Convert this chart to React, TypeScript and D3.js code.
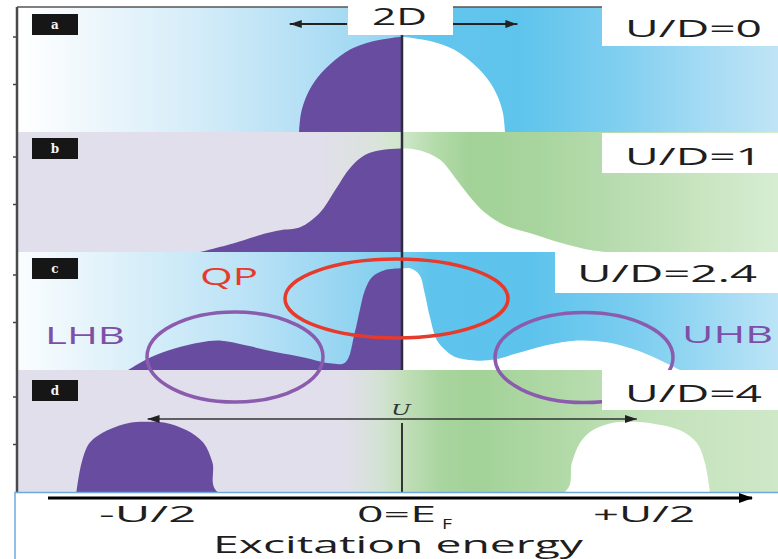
import React from "react";
import * as d3 from "d3";

const W = 778;
const H = 559;

// ---- data (energy in units of D, E_F = 0; DOS normalised to U/D=0 peak) ----
const panelLetters = ["a", "b", "c", "d"];
const ratioLabels = ["U/D=0", "U/D=1", "U/D=2.4", "U/D=4"];

const energyA = [-1, -0.98, -0.93, -0.85, -0.7, -0.5, -0.3, -0.1, 0, 0.1, 0.3, 0.5, 0.7, 0.85, 0.93, 0.98, 1.0];
const dosA = [0, 0.2, 0.37, 0.53, 0.71, 0.87, 0.95, 0.99, 1.0, 0.99, 0.95, 0.87, 0.71, 0.53, 0.37, 0.2, 0];

const energyB = [-1.96, -1.64, -1.31, -1.18, -0.99, -0.8, -0.65, -0.5, -0.36, -0.21, 0, 0.17, 0.37, 0.51, 0.66, 0.81, 1.0, 1.24, 1.53, 1.83, 1.96];
const dosB = [0, 0.09, 0.2, 0.23, 0.26, 0.41, 0.65, 0.89, 1.02, 1.07, 1.09, 1.07, 0.97, 0.79, 0.58, 0.41, 0.28, 0.2, 0.1, 0.02, 0];

const energyC = [-2.66, -2.45, -2.2, -1.96, -1.77, -1.52, -1.23, -0.94, -0.7, -0.55, -0.46, -0.41, -0.36, -0.29, -0.17, 0,
  0.08, 0.17, 0.22, 0.27, 0.34, 0.42, 0.51, 0.71, 0.9, 1.1, 1.4, 1.7, 2.0, 2.3, 2.55, 2.7];
const dosC = [0, 0.13, 0.23, 0.29, 0.31, 0.26, 0.19, 0.13, 0.07, 0.08, 0.39, 0.63, 0.84, 0.98, 1.05, 1.07,
  1.07, 1.0, 0.81, 0.56, 0.31, 0.21, 0.14, 0.1, 0.11, 0.17, 0.26, 0.31, 0.29, 0.2, 0.08, 0];

const energyD = [-3.16, -3.11, -3.03, -2.86, -2.64, -2.48, -2.3, -2.09, -1.93, -1.84, -1.79,
  1.58, 1.65, 1.73, 1.85, 2.05, 2.22, 2.38, 2.7, 2.86, 2.94, 2.99];
const dosD = [0, 0.31, 0.52, 0.65, 0.73, 0.74, 0.73, 0.65, 0.52, 0.31, 0,
  0, 0.31, 0.52, 0.65, 0.73, 0.74, 0.73, 0.65, 0.52, 0.31, 0];

const densityTicks = [0.5, 1];
const axisTickLabels = ["-U/2", "0=E", "+U/2"];
const axisTickEnergies = [-2.47, 0, 2.35];
const bandwidthArrow = [-1.09, 1.12];
const hubbardArrow = [-2.47, 2.28];

// ---- styles ----
const gradStops: Record<string, [number, string][]> = {
  a: [[0, "#ffffff"], [20, "#ffffff"], [90, "#eef7fc"], [200, "#d3ecf8"], [300, "#b6e0f5"], [392, "#96d5f2"], [408, "#62c5ed"], [520, "#5fc4ec"], [620, "#80cff0"], [700, "#a3daf3"], [778, "#bfe4f6"]],
  b: [[0, "#e2dfec"], [320, "#e1dfeb"], [372, "#dbe3dd"], [402, "#d0e7cb"], [435, "#b4dbaa"], [470, "#a2d297"], [540, "#a8d59e"], [620, "#b8dcb0"], [700, "#c8e5c0"], [778, "#d7edd2"]],
  c: [[0, "#ffffff"], [25, "#f8fcfe"], [130, "#daeff9"], [250, "#bae2f6"], [350, "#93d4f1"], [400, "#7ccdef"], [430, "#5fc4ec"], [530, "#5dc3ec"], [640, "#7dcef0"], [778, "#bce4f6"]],
  d: [[0, "#e2dfec"], [345, "#e1dfeb"], [382, "#d2e2d2"], [402, "#c3dfbb"], [440, "#a9d59f"], [475, "#a2d297"], [560, "#b1d9a7"], [650, "#c2e2ba"], [778, "#cfe8c8"]],
};

const PURPLE = "#674c9f";
const FONT = "'Open Sans', 'DejaVu Sans', sans-serif";

export default function App() {
  const x = d3.scaleLinear().domain([-1, 1]).range([299, 505]);
  const cx = x(0);
  const frameLeft = 17;

  const panels = [
    { key: "a", top: 7, bottom: 132, energy: energyA, dos: dosA },
    { key: "b", top: 132, bottom: 252, energy: energyB, dos: dosB },
    { key: "c", top: 252, bottom: 370, energy: energyC, dos: dosC },
    { key: "d", top: 370, bottom: 492, energy: energyD, dos: dosD },
  ].map((p) => ({
    ...p,
    y: d3.scaleLinear().domain([0, 1]).range([p.bottom, p.bottom - 95]),
  }));

  const ratioBoxes = [
    { x: 602, y: 0, h: 46, tx: 625, tw: 137, ty: 37 },
    { x: 602, y: 133, h: 40, tx: 625, tw: 137, ty: 165 },
    { x: 555, y: 252, h: 41, tx: 577, tw: 180, ty: 282 },
    { x: 602, y: 370, h: 40, tx: 625, tw: 137, ty: 402 },
  ];
  const letterBoxTops = [14, 138, 258, 380];

  return (
    <svg width={W} height={H} style={{ position: "fixed", left: 0, top: 0, display: "block", background: "#fff" }}>
      <defs>
        {Object.entries(gradStops).map(([k, stops]) => (
          <linearGradient key={k} id={`g-${k}`} gradientUnits="userSpaceOnUse" x1={0} x2={W} y1={0} y2={0}>
            {stops.map(([px, c], i) => (
              <stop key={i} offset={px / W} stopColor={c} />
            ))}
          </linearGradient>
        ))}
        <clipPath id="leftHalf">
          <rect x={0} y={0} width={cx} height={H} />
        </clipPath>
        <clipPath id="rightHalf">
          <rect x={cx} y={0} width={W - cx} height={H} />
        </clipPath>
        <marker id="ah" viewBox="0 0 12 8" refX={12} refY={4} markerWidth={12} markerHeight={8} markerUnits="userSpaceOnUse" orient="auto-start-reverse">
          <path d="M0,0 L12,4 L0,8 Z" fill="#222" />
        </marker>
        <marker id="ahBig" viewBox="0 0 14 10" refX={13} refY={5} markerWidth={14} markerHeight={10} markerUnits="userSpaceOnUse" orient="auto">
          <path d="M0,0 L14,5 L0,10 Z" fill="#000" />
        </marker>
      </defs>

      {/* panel backgrounds */}
      {panels.map((p) => (
        <rect key={p.key} x={frameLeft} y={p.top} width={W - frameLeft} height={p.bottom - p.top} fill={`url(#g-${p.key})`} />
      ))}

      {/* DOS curves */}
      {panels.map((p) => {
        const pts = p.energy.map((e, i) => [e, p.dos[i]] as [number, number]);
        const area = d3
          .area<[number, number]>()
          .x((d) => x(d[0]))
          .y0(p.bottom)
          .y1((d) => p.y(d[1]))
          .curve(d3.curveCatmullRom.alpha(0.5));
        const dStr = area(pts) || "";
        return (
          <g key={p.key}>
            <path d={dStr} fill={PURPLE} clipPath="url(#leftHalf)" />
            <path d={dStr} fill="#ffffff" clipPath="url(#rightHalf)" />
          </g>
        );
      })}

      {/* E_F line panels a-c */}
      <line x1={cx} x2={cx} y1={35} y2={panels[2].bottom} stroke="#2e2d3c" strokeWidth={2.5} />
      {/* E_F line panel d */}
      <line x1={cx} x2={cx} y1={423} y2={panels[3].bottom} stroke="#333" strokeWidth={2} />

      {/* left frame and ticks */}
      <line x1={frameLeft} x2={frameLeft} y1={7} y2={492} stroke="#4a4a4a" strokeWidth={2.5} />
      <line x1={frameLeft} x2={W} y1={7} y2={7} stroke="#555" strokeWidth={1.5} />
      {panels.map((p) =>
        densityTicks.map((t) => (
          <line key={p.key + t} x1={frameLeft - 4} x2={frameLeft} y1={p.y(t)} y2={p.y(t)} stroke="#444" strokeWidth={1.5} />
        ))
      )}

      {/* panel c annotations */}
      <ellipse cx={396.5} cy={298.5} rx={111.5} ry={39.5} fill="none" stroke="#e63b2c" strokeWidth={3.5} />
      <ellipse cx={235} cy={357} rx={88} ry={45} fill="none" stroke="#8b5cae" strokeWidth={3.5} />
      <ellipse cx={584} cy={357.5} rx={89} ry={45} fill="none" stroke="#8b5cae" strokeWidth={3.5} />
      <text x={200} y={285} fontFamily={FONT} fontSize={24} fill="#e63b2c" textLength={58} lengthAdjust="spacingAndGlyphs">QP</text>
      <text x={45} y={344} fontFamily={FONT} fontSize={24} fill="#7d4fa6" textLength={80} lengthAdjust="spacingAndGlyphs">LHB</text>
      <text x={682} y={343} fontFamily={FONT} fontSize={24} fill="#7d4fa6" textLength={91} lengthAdjust="spacingAndGlyphs">UHB</text>

      {/* panel d U arrow */}
      <line x1={x(hubbardArrow[0])} x2={x(hubbardArrow[1])} y1={419} y2={419} stroke="#333" strokeWidth={1.5} markerStart="url(#ah)" markerEnd="url(#ah)" />
      <text x={391} y={415} fontFamily="'DejaVu Serif', 'Liberation Serif', serif" fontStyle="italic" fontSize={14} fill="#333" textLength={20} lengthAdjust="spacingAndGlyphs">U</text>

      {/* white label boxes */}
      {ratioBoxes.map((b, i) => (
        <g key={i}>
          <rect x={b.x} y={b.y} width={W - b.x} height={b.h} fill="#fff" />
          <text x={b.tx} y={b.ty} fontFamily={FONT} fontSize={24} fill="#1e1e1e" textLength={b.tw} lengthAdjust="spacingAndGlyphs">
            {ratioLabels[i]}
          </text>
        </g>
      ))}
      <rect x={348} y={0} width={105} height={35} fill="#fff" />
      <text x={372} y={25} fontFamily={FONT} fontSize={24} fill="#1e1e1e" textLength={55} lengthAdjust="spacingAndGlyphs">2D</text>
      <line x1={347} x2={x(bandwidthArrow[0])} y1={24} y2={24} stroke="#222" strokeWidth={1.8} markerEnd="url(#ah)" />
      <line x1={453} x2={x(bandwidthArrow[1])} y1={24} y2={24} stroke="#222" strokeWidth={1.8} markerEnd="url(#ah)" />

      {/* panel letters */}
      {panelLetters.map((l, i) => (
        <g key={l}>
          <rect x={32} y={letterBoxTops[i]} width={46} height={21} fill="#161616" />
          <text x={55} y={letterBoxTops[i] + 15} textAnchor="middle" fontFamily="'DejaVu Serif', serif" fontWeight="bold" fontSize={12} fill="#f4f4f4">
            {l}
          </text>
        </g>
      ))}

      {/* bottom axis box */}
      <rect x={15} y={492.5} width={W} height={70} fill="#fff" stroke="#6fa8dc" strokeWidth={1.5} />
      <line x1={48} x2={752} y1={498} y2={498} stroke="#000" strokeWidth={3} markerEnd="url(#ahBig)" />
      <text x={x(axisTickEnergies[0])} y={522} textAnchor="middle" fontFamily={FONT} fontSize={21} fill="#1e1e1e" textLength={97} lengthAdjust="spacingAndGlyphs">
        {axisTickLabels[0]}
      </text>
      <text x={357} y={522} fontFamily={FONT} fontSize={21} fill="#1e1e1e" textLength={79} lengthAdjust="spacingAndGlyphs">
        {axisTickLabels[1]}
      </text>
      <text x={442} y={529} fontFamily={FONT} fontSize={14} fill="#1e1e1e" textLength={10} lengthAdjust="spacingAndGlyphs">F</text>
      <text x={x(axisTickEnergies[2])} y={522} textAnchor="middle" fontFamily={FONT} fontSize={21} fill="#1e1e1e" textLength={102} lengthAdjust="spacingAndGlyphs">
        {axisTickLabels[2]}
      </text>
      <text x={213} y={553} fontFamily={FONT} fontSize={23} fill="#1e1e1e" textLength={370} lengthAdjust="spacingAndGlyphs">
        Excitation energy
      </text>
    </svg>
  );
}
